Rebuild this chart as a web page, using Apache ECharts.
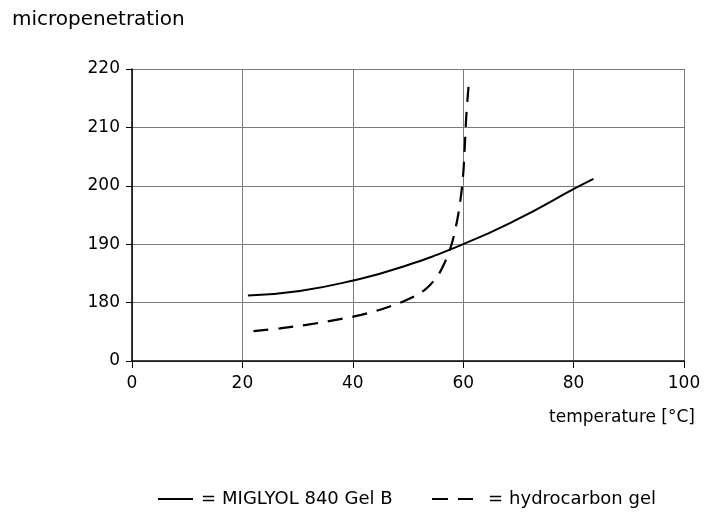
<!DOCTYPE html>
<html>
<head>
<meta charset="utf-8">
<script src="https://cdn.jsdelivr.net/npm/echarts@6/dist/echarts.min.js"></script>
<style>html,body{margin:0;padding:0;background:#fff;}#c{width:706px;height:513px;}</style>
</head>
<body>
<div id="c"></div>
<script>
// Y axis is broken: the lowest band (label "0") is drawn one step below 180
var yTickValues = [170, 180, 190, 200, 210, 220];
var yTickLabels = ['0', '180', '190', '200', '210', '220'];
var xTicks = [0, 20, 40, 60, 80, 100];
var seriesNames = ['MIGLYOL 840 Gel B', 'hydrocarbon gel'];
var miglyolTemp = [21, 30.4, 40.1, 48.6, 60, 69.7, 80.3, 83.6];
var miglyolVal = [181.2, 182.0, 183.8, 186.0, 190.0, 194.2, 199.6, 201.2];
var hydroTemp = [22, 26.8, 31.6, 36.7, 41.5, 46.3, 50.8, 53.3, 54.8, 56.0, 57.6, 58.7, 59.5, 60.0, 60.3, 60.6, 61.1];
var hydroVal = [175.1, 175.6, 176.2, 177.0, 177.9, 179.2, 180.9, 182.4, 183.9, 185.6, 189.1, 193.1, 197.6, 202.0, 207.0, 212.5, 218.5];

function pairs(xs, ys) { return xs.map(function (x, i) { return [x, ys[i]]; }); }

var font = '"DejaVu Sans", Arial, Helvetica, sans-serif';
var chart = echarts.init(document.getElementById('c'), null, { renderer: 'canvas' });
chart.setOption({
  backgroundColor: '#fff',
  animation: false,
  grid: { left: 132, right: 22, top: 69, bottom: 152, containLabel: false },
  xAxis: {
    type: 'value', min: xTicks[0], max: xTicks[xTicks.length - 1], interval: 20,
    axisLine: { lineStyle: { color: '#000', width: 1.5 } },
    axisTick: { show: true, length: 7, lineStyle: { color: '#000', width: 1 } },
    axisLabel: { color: '#000', fontSize: 17, fontFamily: font, margin: 14 },
    splitLine: { show: true, lineStyle: { color: '#7a7a7a', width: 1 } }
  },
  yAxis: {
    type: 'value', min: yTickValues[0], max: yTickValues[yTickValues.length - 1], interval: 10,
    axisLine: { show: true, lineStyle: { color: '#000', width: 1.5 } },
    axisTick: { show: true, length: 6, lineStyle: { color: '#000', width: 1 } },
    axisLabel: {
      color: '#000', fontSize: 17, fontFamily: font, margin: 12,
      formatter: function (v) { var i = yTickValues.indexOf(v); return i >= 0 ? yTickLabels[i] : ''; }
    },
    splitLine: { show: true, lineStyle: { color: '#7a7a7a', width: 1 } }
  },
  legend: [
    {
      left: 153, top: 485,
      itemWidth: 35, itemHeight: 2, itemGap: 0,
      icon: 'rect',
      textStyle: { color: '#000', fontSize: 18, fontFamily: font, rich: { e: { fontSize: 18, fontFamily: font, padding: [0, 6, 0, 3] } } },
      formatter: function (n) { return '{e|=}' + n; },
      data: [seriesNames[0]]
    },
    {
      left: 427, top: 485,
      itemWidth: 41, itemHeight: 2, itemGap: 0,
      icon: 'path://M0,0h16v2h-16z M26,0h15v2h-15z',
      textStyle: { color: '#000', fontSize: 18, fontFamily: font, rich: { e: { fontSize: 18, fontFamily: font, padding: [0, 6, 0, 10] } } },
      formatter: function (n) { return '{e|=}' + n; },
      data: [seriesNames[1]]
    }
  ],
  graphic: [
    { type: 'text', left: 12, top: 10, style: { text: 'micropenetration', fill: '#000', font: '20px ' + font } },
    { type: 'text', right: 11, top: 409, style: { text: 'temperature [°C]', fill: '#000', font: '17px ' + font } }
  ],
  series: [
    {
      name: seriesNames[0], type: 'line', data: pairs(miglyolTemp, miglyolVal),
      smooth: 0.5, symbol: 'none',
      lineStyle: { color: '#000', width: 2, type: 'solid' }, itemStyle: { color: '#000' }
    },
    {
      name: seriesNames[1], type: 'line', data: pairs(hydroTemp, hydroVal),
      smooth: 0.4, symbol: 'none',
      lineStyle: { color: '#000', width: 2.2, type: [15, 10] }, itemStyle: { color: '#000' }
    }
  ]
});
</script>
</body>
</html>
